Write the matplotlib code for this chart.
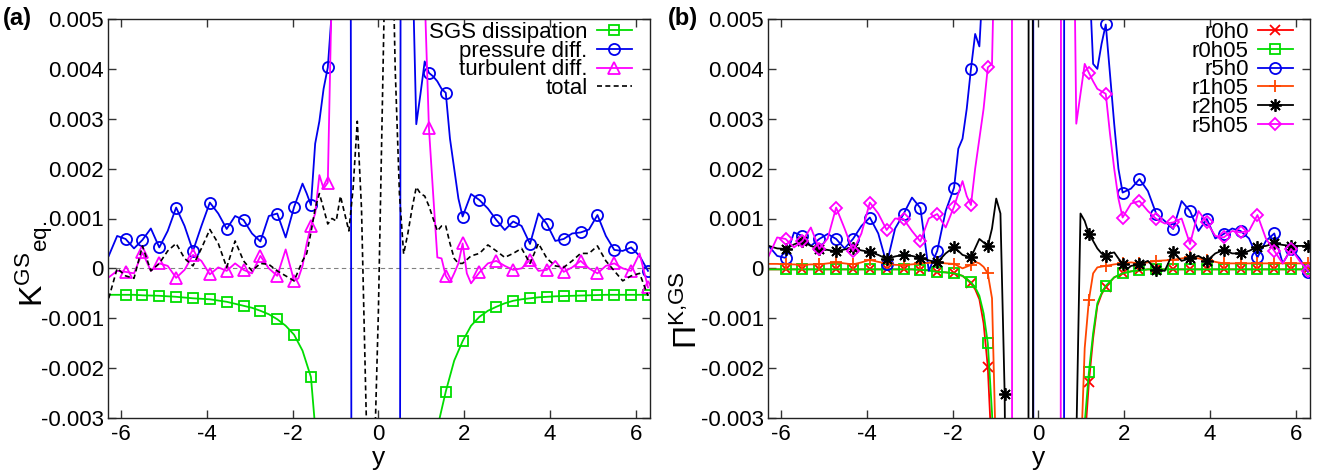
import numpy as np
import matplotlib
matplotlib.use("Agg")
import matplotlib.pyplot as plt
from matplotlib.lines import Line2D

plt.rcParams['font.family'] = ['Liberation Sans', 'DejaVu Sans']
plt.rcParams['mathtext.default'] = 'regular'

# abscissa: y = idx * pi/32 ; base grid every 2 idx (pi/16) from -2pi to 2pi
grid_idx = list(range(-64, 65, 2))
yticks_v = [-0.003, -0.002, -0.001, 0, 0.001, 0.002, 0.003, 0.004, 0.005]
ytick_lab = ['-0.003', '-0.002', '-0.001', '0', '0.001', '0.002', '0.003', '0.004', '0.005']
xticks_v = [-6, -4, -2, 0, 2, 4, 6]
xtick_lab = ['-6', '-4', '-2', '0', '2', '4', '6']

# ---------------- panel (a): values in units of 1e-3 ----------------
a_sgs = [-0.53, -0.53, -0.53, -0.53, -0.54, -0.545, -0.55, -0.56, -0.57, -0.585,
         -0.6, -0.61, -0.62, -0.645, -0.67, -0.71, -0.75, -0.79, -0.85, -0.92,
         -1.02, -1.15, -1.33, -1.65, -2.18, -4.2, -8, -15, -20, -20,
         -20, -20, -20, -20, -20, -20, -20, -12, -6, -3.2,
         -2.47, -1.85, -1.46, -1.15, -0.97, -0.85, -0.77, -0.70, -0.65, -0.62,
         -0.6, -0.58, -0.57, -0.56, -0.555, -0.55, -0.545, -0.54, -0.535, -0.53,
         -0.53, -0.53, -0.53, -0.53, -0.53]

a_press = [0.25, 0.65, 0.59, 0.40, 0.57, 0.80, 0.42, 0.75, 1.22, 0.85,
           0.35, 0.85, 1.32, 1.1, 0.79, 1.05, 0.97, 0.7, 0.54, 1.05,
           1.1, 0.62, 1.23, 1.7, 1.27, 2.95, 4.03, 6.4, 100, -30,
           -100, -100, -100, -100, -90, 60, 6.5, 3.5, 3.92, 3.75,
           3.52, 2.0, 1.04, 1.49, 1.37, 1.2, 0.97, 0.77, 0.94, 0.85,
           0.49, 1.1, 0.89, 0.55, 0.59, 0.7, 0.72, 0.78, 1.07, 0.65,
           0.37, 0.35, 0.42, 0.25, -0.05]
a_press_xi = [-17, -15, -13, 9, 11, 13, 15, 17, 19]
a_press_xv = [1.5, 2.5, 3.6, 2.89, 4.15, 3.85, 3.6, 2.6, 1.4]

a_turb = [-0.18, -0.05, -0.07, -0.1, 0.32, -0.05, 0.1, 0.05, -0.19, -0.03,
          0.27, 0.15, -0.12, 0.02, -0.05, 0.1, -0.03, -0.1, 0.25, 0.0,
          -0.15, 0.38, -0.25, 0.05, 0.85, 1.87, 1.72, 10, 20, 20,
          20, 20, 20, 20, 20, 20, 20, 7, 2.82, 0.22,
          -0.15, -0.1, 0.5, -0.3, -0.08, 0.1, 0.15, 0.05, -0.03, 0.0,
          0.17, -0.05, -0.03, 0.15, -0.07, 0.02, 0.15, 0.0, -0.1, 0.05,
          0.1, 0.0, -0.05, 0.3, -0.38]
a_turb_xi = [-19, -17, -15, -13, 11, 13, 15, 17, 19, 21]
a_turb_xv = [-0.2, 0.5, 1.1, 1.6, 5.5, 1.5, 0.2, -0.28, 0.1, -0.1]

a_total = [-0.6, 0.0, -0.15, -0.2, 0.45, -0.05, 0.1, 0.35, 0.5, 0.2,
           0.05, 0.4, 0.78, 0.5, 0.02, 0.55, 0.15, -0.05, 0.1, 0.08,
           -0.05, -0.15, -0.25, 0.15, 0.72, 1.5, 0.89, 0.95, 1.1, 1.6,
           1.2, -6, -0.9, 8, 4.0, 0.29, 1.2, 1.5, 1.25, 0.75,
           0.85, 0.2, 0.1, 0.25, 0.3, 0.47, 0.35, 0.22, 0.3, 0.4,
           0.1, 0.5, 0.2, 0.05, 0.02, 0.15, 0.3, 0.3, 0.45, 0.15,
           -0.05, -0.25, -0.15, -0.1, -0.55]
a_total_xi = [-17, -15, -13, -11, -9, -7, -5, -3, -1, 1, 3, 5, 7, 9, 11, 13, 15, 17, 19]
a_total_xv = [0.3, 1.2, 1.2, 1.0, 1.45, 0.75, 2.95, -2.5, -4, 3.5, 8, 1.5, 0.7, 1.63, 1.45, 1.0, 0.85, 0.5, 0.1]

# ---------------- panel (b) ----------------
b_r0h0 = [-0.02] * 18 + [-0.03, -0.04, -0.07, -0.08, -0.1, -0.15, -0.3, -0.62, -1.98, -8,
                         -20, -20, -20, -20, -20, -20, -20, -20, -20, -8,
                         -2.28, -0.75, -0.37, -0.18, -0.1, -0.06, -0.04] + [-0.02] * 20
b_r0h0_xi = [-15, -13, -11, 11, 13, 15]
b_r0h0_xv = [-0.42, -1.1, -3.8, -3.5, -1.4, -0.52]

b_r0h05 = [-0.02] * 18 + [-0.03, -0.04, -0.07, -0.08, -0.1, -0.15, -0.28, -0.55, -1.5, -5,
                          -20, -20, -20, -20, -20, -20, -20, -20, -20, -6,
                          -2.08, -0.7, -0.35, -0.18, -0.1, -0.06, -0.04] + [-0.02] * 20
b_r0h05_xi = [-15, -13, -11, 11, 13, 15]
b_r0h05_xv = [-0.38, -0.9, -2.9, -3.1, -1.3, -0.5]

b_r5h0 = [0.45, 0.25, 0.21, 0.72, 0.65, 0.45, 0.59, 0.69, 0.59, 0.4,
          0.59, 0.85, 1.02, 0.7, 0.09, 0.8, 1.09, 1.42, 1.21, -0.05,
          0.35, 1.15, 1.62, 2.6, 4.0, 4.45, 20, 100, 200, 300,
          400, 400, -100, -100, -100, -50, 400, 20, 6, 4.0,
          4.89, 2.9, 1.52, 1.6, 1.79, 1.55, 1.09, 0.95, 0.79, 1.35,
          1.15, 0.75, 0.99, 0.6, 0.69, 0.8, 0.75, 0.6, 0.22, 0.55,
          0.7, 0.1, 0.39, 0.2, -0.07]
b_r5h0_xi = [-19, -17, -15, -13, -1, 7, 9, 11, 13, 15, 17, 19]
b_r5h0_xv = [2.4, 3.2, 4.7, 6, -100, 400, 100, 8, 4.1, 4.5, 3.9, 2.0]

b_r1h05 = [0.09, 0.09, 0.08, 0.08, 0.07, 0.08, 0.08, 0.1, 0.12, 0.1,
           0.08, 0.12, 0.17, 0.13, 0.1, 0.07, 0.07, 0.08, 0.1, 0.11,
           0.12, 0.1, 0.09, 0.0, 0.07, 0.1, -0.1, -4, -20, -20,
           -20, -20, -20, -20, -20, -20, -20, -4, -0.63, 0.02,
           0.05, 0.08, 0.1, 0.12, 0.1, 0.12, 0.15, 0.16, 0.17, 0.2,
           0.22, 0.2, 0.17, 0.13, 0.1, 0.1, 0.1, 0.1, 0.1, 0.1,
           0.1, 0.1, 0.1, 0.1, 0.1]
b_r1h05_xi = [-15, -13, -11, 11, 13]
b_r1h05_xv = [0.13, 0.03, -0.6, -1.6, -0.1]

b_r2h05 = [0.45, 0.4, 0.39, 0.48, 0.55, 0.45, 0.39, 0.37, 0.34, 0.38,
           0.41, 0.36, 0.33, 0.27, 0.19, 0.24, 0.27, 0.25, 0.21, 0.16,
           0.12, 0.3, 0.43, 0.27, 0.22, 0.59, 0.45, 1.4, -2.51, -50,
           -150, 100, -50, -50, -50, -50, -30, 1.1, 0.69, 0.4,
           0.24, 0.32, 0.09, 0.05, 0.08, 0.15, -0.03, -0.05, 0.32, 0.15,
           0.2, 0.25, 0.15, 0.3, 0.37, 0.3, 0.3, 0.35, 0.43, 0.45,
           0.5, 0.47, 0.45, 0.45, 0.45]
b_r2h05_xi = [-11, -9, -7, -5, -3, -1, 9, 11, 13, 15, 17, 19, 21]
b_r2h05_xv = [0.8, 1.1, -12, -100, -200, -40, -3.5, 0.95, 0.55, 0.3, 0.3, 0.2, -0.02]

b_r5h05 = [0.25, 0.62, 0.59, 0.42, 0.55, 0.82, 0.39, 0.6, 1.22, 0.8,
           0.35, 0.7, 1.32, 1.1, 0.77, 1.0, 0.99, 0.75, 0.54, 1.0,
           1.09, 0.82, 1.24, 1.75, 1.27, 2.6, 4.03, 8, 300, -100,
           -100, -100, -100, -100, -100, 100, 10, 3.5, 3.92, 3.6,
           3.5, 2.0, 1.02, 1.3, 1.35, 1.15, 0.99, 0.9, 0.92, 1.0,
           0.49, 1.15, 0.92, 0.65, 0.62, 0.75, 0.72, 0.75, 1.07, 0.6,
           0.35, 0.1, 0.39, 0.15, -0.05]
b_r5h05_xi = [-19, -17, -15, -13, -11, -7, 5, 7, 9, 11, 13, 15, 17, 19]
b_r5h05_xv = [1.5, 1.45, 2.0, 3.2, 4.1, 300, -50, 200, 2.9, 4.1, 3.75, 3.55, 2.7, 1.4]


def series(base, xi=(), xv=()):
    idx = np.array(list(grid_idx) + list(xi))
    val = np.array(list(base) + list(xv), dtype=float)
    o = np.argsort(idx, kind='stable')
    idx, val = idx[o], val[o]
    x = idx * np.pi / 32
    mk = [int(i) for i in np.where((idx % 4 == 0) & (idx > -64))[0]]
    return x, val * 1e-3, mk


GREEN = '#00dd00'
BLUE = '#0000ee'
MAG = '#ff00ff'
RED = '#ff0000'
ORANGE = '#ff4500'
FS = 16

fig = plt.figure(figsize=(13.23, 4.71), dpi=100)
axa = fig.add_axes([108 / 1323, 53 / 471, 542 / 1323, 399 / 471])
axb = fig.add_axes([768 / 1323, 53 / 471, 542 / 1323, 399 / 471])


def style_axes(ax):
    ax.set_xlim(-6.3, 6.33)
    ax.set_ylim(-0.003, 0.005)
    ax.set_yticks(yticks_v)
    ax.set_yticklabels(ytick_lab)
    ax.set_xticks(xticks_v)
    ax.set_xticklabels(xtick_lab)
    ax.tick_params(direction='in', length=6, width=1, top=True, right=True,
                   labelsize=FS, color='#333333')
    ax.tick_params(axis='y', pad=3)
    ax.tick_params(axis='x', pad=4)
    for s in ax.spines.values():
        s.set_linewidth(1.0)
        s.set_color('#222222')
    ax.set_xlabel('y', fontsize=19, labelpad=1)


def draw(ax, data, color, marker, label, ms=7, ls='-', lw=1.3):
    x, v, mk = data
    ax.plot(x, v, color=color, lw=lw, ls=ls, marker=marker if marker else None,
            ms=ms, mfc='none', mec=color, mew=1.3, markevery=mk if marker else None)
    return Line2D([], [], color=color, lw=lw, ls=ls, marker=marker if marker else None,
                  ms=ms, mfc='none', mec=color, mew=1.3, label=label)


LEG = dict(frameon=False, markerfirst=False, fontsize=FS, handlelength=1.6,
           handletextpad=0.4, labelspacing=-0.1, borderaxespad=0.0, borderpad=0.0,
           numpoints=1, loc='upper right')

# ---- panel (a)
axa.axhline(0, color='#808080', lw=0.8, ls=(0, (4, 3)), zorder=1)
ha = []
ha.append(draw(axa, series(a_sgs), GREEN, 's', 'SGS dissipation'))
ha.append(draw(axa, series(a_press, a_press_xi, a_press_xv), BLUE, 'o', 'pressure diff.', ms=8))
ha.append(draw(axa, series(a_turb, a_turb_xi, a_turb_xv), MAG, '^', 'turbulent diff.', ms=8))
ha.append(draw(axa, series(a_total, a_total_xi, a_total_xv), 'black', None, 'total', ls=(0, (3, 2)), lw=1.2))
style_axes(axa)
axa.set_ylabel(r'$K^{GS}{}_{eq.}$', fontsize=23)
axa.yaxis.set_label_coords(-0.097, 0.385)
axa.legend(handles=ha, bbox_to_anchor=(0.967, 0.993), **LEG)

# ---- panel (b)
hb = []
hb.append(draw(axb, series(b_r0h0, b_r0h0_xi, b_r0h0_xv), RED, 'x', 'r0h0'))
hb.append(draw(axb, series(b_r0h05, b_r0h05_xi, b_r0h05_xv), GREEN, 's', 'r0h05'))
hb.append(draw(axb, series(b_r5h0, b_r5h0_xi, b_r5h0_xv), BLUE, 'o', 'r5h0', ms=8))
hb.append(draw(axb, series(b_r1h05, b_r1h05_xi, b_r1h05_xv), ORANGE, '+', 'r1h05', ms=9))
hb.append(draw(axb, series(b_r2h05, b_r2h05_xi, b_r2h05_xv), 'black', (8, 2, 0), 'r2h05', ms=9))
hb.append(draw(axb, series(b_r5h05, b_r5h05_xi, b_r5h05_xv), MAG, 'D', 'r5h05', ms=6))
style_axes(axb)
axb.set_ylabel(r'$\Pi^{K{,}GS}$', fontsize=23)
axb.yaxis.set_label_coords(-0.118, 0.27)
axb.legend(handles=hb, bbox_to_anchor=(0.969, 0.993), **LEG)

fig.text(3 / 1323, 1 - 19 / 471, '(a)', fontsize=17, fontweight='bold', va='center', ha='left')
fig.text(668 / 1323, 1 - 19 / 471, '(b)', fontsize=17, fontweight='bold', va='center', ha='left')

fig.savefig('out.png', dpi=100)
